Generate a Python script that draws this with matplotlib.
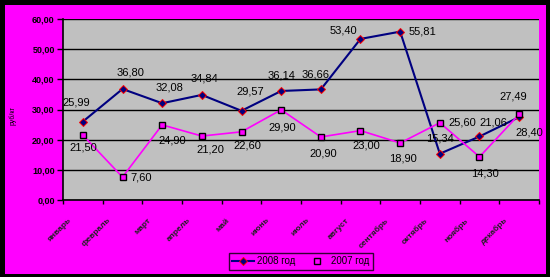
import numpy as np
import matplotlib
matplotlib.use("Agg")
import matplotlib.pyplot as plt
import matplotlib.transforms as mtransforms
from matplotlib.patches import Rectangle

months = ["январь", "февраль", "март", "апрель", "май", "июнь", "июль",
          "август", "сентябрь", "октябрь", "ноябрь", "декабрь"]
y2008 = [25.99, 36.80, 32.08, 34.84, 29.57, 36.14, 36.66, 53.40, 55.81, 15.34, 21.06, 27.49]
y2007 = [21.50, 7.60, 24.90, 21.20, 22.60, 29.90, 20.90, 23.00, 18.90, 25.60, 14.30, 28.40]
yticks = [0, 10, 20, 30, 40, 50, 60]

# label offsets in points (dx, dy, ha)
off2008 = [(-5, 14, "center"), (6, 12, "center"), (5, 11, "center"), (2, 12, "center"),
           (6, 14, "center"), (0, 11, "center"), (-4, 11, "center"), (-12, 6, "center"),
           (6, 0, "left"), (0, 11, "center"), (10, 10, "center"), (-4, 15, "center")]
off2007 = [(0, -9, "center"), (6, 0, "left"), (7, -11, "center"), (6, -10, "center"),
           (4, -10, "center"), (1, -13, "center"), (2, -12, "center"), (4, -11, "center"),
           (2, -11, "center"), (6, 0, "left"), (4, -12, "center"), (7, -13, "center")]

plt.rcParams["font.family"] = ["Liberation Sans", "DejaVu Sans"]

fig = plt.figure(figsize=(5.5, 2.77), dpi=100)
fig.patch.set_facecolor("black")
bg = Rectangle((5 / 550, 3 / 277), 541 / 550, 269 / 277,
               transform=fig.transFigure, facecolor="#FF00FF",
               edgecolor="none", zorder=-10)
fig.add_artist(bg)

ax = fig.add_axes([63 / 550, 77 / 277, 476 / 550, 181 / 277])
ax.set_facecolor("#C0C0C0")
x = np.arange(len(months))

ax.plot(x, y2008, color="#000080", lw=1.5, marker="D", ms=4,
        mfc="#000080", mec="red", mew=0.7, label="2008 год", zorder=3)
ax.plot(x, y2007, color="#FF00FF", lw=1.2, marker="s", ms=5,
        mfc="#FF00FF", mec="black", mew=1.0, label="2007 год", zorder=3)

for i, v in enumerate(y2008):
    dx, dy, ha = off2008[i]
    ax.annotate(f"{v:.2f}".replace(".", ","), (x[i], v), xytext=(dx, dy),
                textcoords="offset points", ha=ha, va="center", fontsize=8, zorder=4)
for i, v in enumerate(y2007):
    dx, dy, ha = off2007[i]
    ax.annotate(f"{v:.2f}".replace(".", ","), (x[i], v), xytext=(dx, dy),
                textcoords="offset points", ha=ha, va="center", fontsize=8, zorder=4)

ax.set_xlim(-0.5, 11.5)
ax.set_ylim(0, 60)
ax.set_yticks(yticks)
ax.set_yticklabels([f"{t:.2f}".replace(".", ",") for t in yticks], fontsize=6.5,
                   fontweight="bold")
ax.yaxis.grid(True, color="black", lw=1)
ax.set_axisbelow(True)
for s in ["top", "right"]:
    ax.spines[s].set_visible(False)
ax.spines["left"].set_linewidth(1.2)
ax.spines["bottom"].set_linewidth(1.2)
ax.tick_params(axis="y", length=4, width=1, pad=2)

ax.set_xticks(np.arange(-0.5, 12, 1))
ax.set_xticklabels([])
ax.tick_params(axis="x", length=3, width=1)
ax.set_xticks(x, minor=True)
ax.set_xticklabels(months, minor=True, rotation=45, ha="right", va="top",
                   fontsize=6, fontweight="bold", color="#202020")
ax.tick_params(axis="x", which="minor", length=0, pad=12)
shift = mtransforms.ScaledTranslation(-10 / 100, 0, fig.dpi_scale_trans)
for lab in ax.get_xticklabels(minor=True):
    lab.set_transform(lab.get_transform() + shift)

fig.text(13 / 550, 1 - 115 / 277, "руб/кг", rotation=90, fontsize=5,
         ha="center", va="center")

leg = ax.legend(loc="upper left", bbox_to_anchor=(229 / 550, 24 / 277),
                bbox_transform=fig.transFigure, borderaxespad=0, ncol=2,
                frameon=True, fontsize=7, handlelength=2.2, columnspacing=1.2,
                borderpad=0.35, handletextpad=0.3, fancybox=False)
leg.get_frame().set_facecolor("#FF00FF")
leg.get_frame().set_edgecolor("black")
leg.get_frame().set_linewidth(1)

fig.savefig("out.png", dpi=100, facecolor=fig.get_facecolor())
